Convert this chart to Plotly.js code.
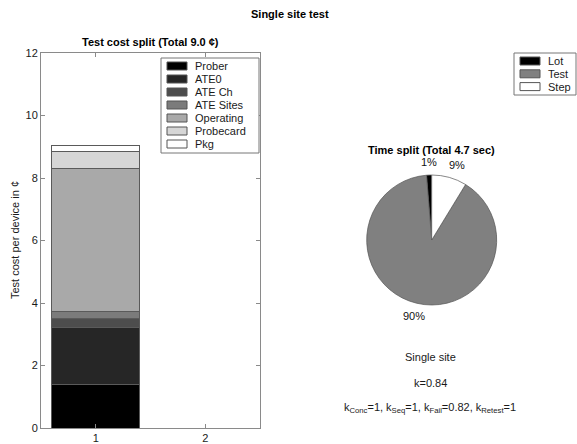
<!DOCTYPE html>
<html>
<head>
<meta charset="utf-8">
<script src="https://cdn.plot.ly/plotly-3.0.1.min.js"></script>
<style>html,body{margin:0;padding:0;background:#fff;}#chart{width:577px;height:444px;}</style>
</head>
<body>
<div id="chart"></div>
<script>
// ---- Data ----
const costCategories = ["Prober", "ATE0", "ATE Ch", "ATE Sites", "Operating", "Probecard", "Pkg"];
const costValues = [1.40, 1.81, 0.30, 0.23, 4.55, 0.55, 0.19];
const costColors = ["#000000", "#262626", "#4d4d4d", "#7b7b7b", "#a9a9a9", "#d6d6d6", "#ffffff"];
const barX = [1];
const xTickVals = [1, 2];
const yTickVals = [0, 2, 4, 6, 8, 10, 12];

const timeLabels = ["Lot", "Test", "Step"];
const timeValues = [0.06, 4.23, 0.41];
const timeColors = ["#000000", "#808080", "#ffffff"];

const mainTitle = "<b>Single site test</b>";
const barTitle = "<b>Test cost split (Total 9.0 ¢)</b>";
const pieTitle = "<b>Time split (Total 4.7 sec)</b>";
const yTitle = "Test cost per device in ¢";
const infoLines = ["Single site", "k=0.84",
  "k<sub>Conc</sub>=1, k<sub>Seq</sub>=1, k<sub>Fail</sub>=0.82, k<sub>Retest</sub>=1"];

// ---- Layout helpers (pixel -> paper) ----
const W = 577, H = 444;
const px = x => x / W;
const py = y => 1 - y / H;
const FONT = "Liberation Sans, Arial, Helvetica, sans-serif";
const TXT = "#1a1a1a";

const traces = costCategories.map((name, i) => ({
  type: "bar",
  name: name,
  x: barX,
  y: [costValues[i]],
  width: 0.8,
  marker: {color: costColors[i], line: {color: "#5a5a5a", width: 1}},
  showlegend: false,
  hoverinfo: "name+y"
}));

// pie geometry (pixels)
const pieCx = 431.7, pieCy = 240, pieR = 65;
const timeTotal = timeValues.reduce((a, b) => a + b, 0);
const firstFrac = timeValues[0] / timeTotal;

traces.push({
  type: "pie",
  labels: timeLabels,
  values: timeValues,
  sort: false,
  direction: "counterclockwise",
  rotation: -360 * firstFrac,   // first slice starts at 12 o'clock going counterclockwise
  marker: {colors: timeColors, line: {color: "#555555", width: 0.7}},
  textinfo: "none",
  textposition: "none",
  domain: {x: [px(pieCx - pieR), px(pieCx + pieR)], y: [py(pieCy + pieR), py(pieCy - pieR)]},
  showlegend: false,
  automargin: false
});

const shapes = [];
const annotations = [];

// percent labels outside the pie (MATLAB style, at 1.2 r on mid angle)
let cum = 0;
timeValues.forEach((v) => {
  const f = v / timeTotal;
  const mid = (cum + f / 2) * 2 * Math.PI;  // counterclockwise from 12 o'clock
  cum += f;
  const R = pieR * 1.2;
  const x = pieCx - R * Math.sin(mid);
  const y = pieCy - R * Math.cos(mid);
  const sx = -Math.sin(mid);
  annotations.push({xref: "paper", yref: "paper", x: px(x), y: py(y),
    xanchor: "center", xshift: sx > 0.25 ? 4 : 0, yanchor: "middle", showarrow: false,
    text: Math.round(f * 100) + "%", font: {family: FONT, size: 11, color: "#111111"}});
});

// Legend for the bars
shapes.push({type: "rect", xref: "paper", yref: "paper",
  x0: px(161), x1: px(259), y0: py(153), y1: py(58),
  line: {color: "#777", width: 1}, fillcolor: "#fff", layer: "above"});
costCategories.forEach((name, i) => {
  const yc = 66 + i * 13;
  shapes.push({type: "rect", xref: "paper", yref: "paper",
    x0: px(167), x1: px(187), y0: py(yc + 4), y1: py(yc - 4),
    line: {color: "#555", width: 1}, fillcolor: costColors[i], layer: "above"});
  annotations.push({xref: "paper", yref: "paper", x: px(193), y: py(yc),
    xanchor: "left", yanchor: "middle", showarrow: false, text: name,
    font: {family: FONT, size: 11, color: TXT}});
});

// Legend for the pie
shapes.push({type: "rect", xref: "paper", yref: "paper",
  x0: px(514), x1: px(576), y0: py(95), y1: py(53),
  line: {color: "#777", width: 1}, fillcolor: "#fff", layer: "above"});
timeLabels.forEach((name, i) => {
  const yc = 61 + i * 12.8;
  shapes.push({type: "rect", xref: "paper", yref: "paper",
    x0: px(520), x1: px(540), y0: py(yc + 4), y1: py(yc - 4),
    line: {color: "#555", width: 1}, fillcolor: timeColors[i], layer: "above"});
  annotations.push({xref: "paper", yref: "paper", x: px(546), y: py(yc),
    xanchor: "left", yanchor: "middle", showarrow: false, text: name,
    font: {family: FONT, size: 11, color: TXT}});
});

// Titles
annotations.push({xref: "paper", yref: "paper", x: px(290), y: py(14), xanchor: "center", yanchor: "middle",
  showarrow: false, text: mainTitle, font: {family: FONT, size: 11, color: "#000"}});
annotations.push({xref: "paper", yref: "paper", x: px(150), y: py(42), xanchor: "center", yanchor: "middle",
  showarrow: false, text: barTitle, font: {family: FONT, size: 11, color: "#000"}});
annotations.push({xref: "paper", yref: "paper", x: px(431), y: py(150), xanchor: "center", yanchor: "middle",
  showarrow: false, text: pieTitle, font: {family: FONT, size: 11, color: "#000"}});
annotations.push({xref: "paper", yref: "paper", x: px(15), y: py(240), xanchor: "center", yanchor: "middle",
  showarrow: false, text: yTitle, textangle: -90, font: {family: FONT, size: 11, color: TXT}});
[357, 383, 408].forEach((yy, i) => {
  annotations.push({xref: "paper", yref: "paper", x: px(430), y: py(yy), xanchor: "center", yanchor: "middle",
    showarrow: false, text: infoLines[i], font: {family: FONT, size: 11, color: TXT}});
});

const axisCommon = {
  showline: true, linecolor: "#8a8a8a", linewidth: 1, mirror: "ticks",
  ticks: "inside", ticklen: 4, tickcolor: "#8a8a8a", showgrid: false, zeroline: false,
  tickfont: {family: FONT, size: 11, color: TXT}, fixedrange: true
};

const layout = {
  width: W, height: H,
  margin: {l: 0, r: 0, t: 0, b: 0},
  paper_bgcolor: "#fff", plot_bgcolor: "#fff",
  barmode: "stack",
  showlegend: false,
  font: {family: FONT, size: 11, color: TXT},
  xaxis: Object.assign({}, axisCommon, {domain: [px(41), px(260)], range: [0.5, 2.5],
    tickmode: "array", tickvals: xTickVals, ticktext: xTickVals.map(String)}),
  yaxis: Object.assign({}, axisCommon, {domain: [py(428), py(53)], range: [0, 12],
    tickmode: "array", tickvals: yTickVals, ticktext: yTickVals.map(String)}),
  shapes: shapes,
  annotations: annotations
};

Plotly.newPlot("chart", traces, layout, {displayModeBar: false, staticPlot: true});
</script>
</body>
</html>
